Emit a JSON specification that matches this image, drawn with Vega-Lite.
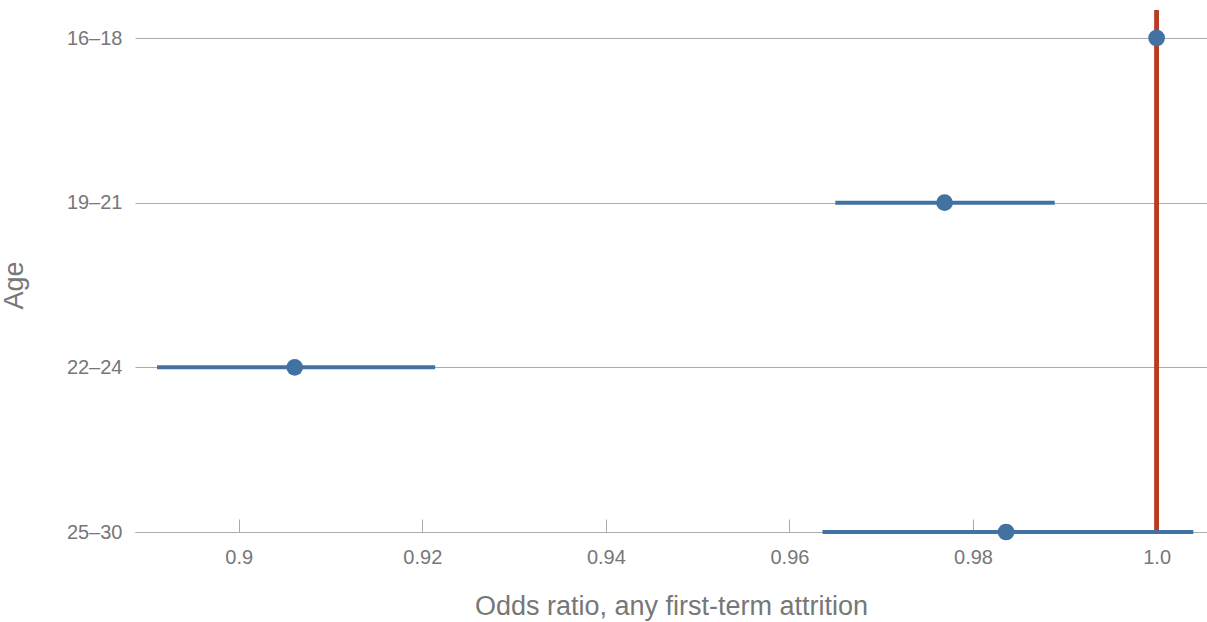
{
  "$schema": "https://vega.github.io/schema/vega-lite/v6.json",
  "width": 1072,
  "height": 522,
  "autosize": {"type": "none"},
  "padding": {"left": 135, "top": 10, "right": 0, "bottom": 90},
  "background": "white",
  "config": {
    "view": {"stroke": null},
    "font": "Liberation Sans",
    "axis": {
      "labelFont": "Liberation Sans",
      "titleFont": "Liberation Sans",
      "labelColor": "#777777",
      "titleColor": "#777777",
      "labelFontSize": 20,
      "titleFontSize": 27,
      "titleFontWeight": "normal"
    }
  },
  "data": {
    "values": [
      {"age": "16–18", "or": 1.0, "lo": 1.0, "hi": 1.0},
      {"age": "19–21", "or": 0.9769, "lo": 0.965, "hi": 0.9889},
      {"age": "22–24", "or": 0.9061, "lo": 0.8911, "hi": 0.9214},
      {"age": "25–30", "or": 0.9836, "lo": 0.9636, "hi": 1.004}
    ]
  },
  "encoding": {
    "y": {
      "field": "age",
      "type": "ordinal",
      "sort": ["16–18", "19–21", "22–24", "25–30"],
      "scale": {"type": "point", "range": [28, 522], "padding": 0},
      "axis": {
        "title": "Age",
        "titleX": -121,
        "titleY": 275,
        "titleBaseline": "middle",
        "titleAlign": "center",
        "domain": false,
        "ticks": false,
        "grid": true,
        "gridColor": "#aaaaaa",
        "gridWidth": 1,
        "labelPadding": 13
      }
    }
  },
  "layer": [
    {
      "mark": {"type": "rule", "color": "#b83c24", "strokeWidth": 4},
      "encoding": {"x": {"datum": 1}, "y": null}
    },
    {
      "mark": {"type": "rule", "color": "#4272a2", "strokeWidth": 4},
      "encoding": {
        "x": {
          "field": "lo",
          "type": "quantitative",
          "scale": {"domain": [0.8887, 1.00549], "nice": false, "zero": false},
          "axis": {
            "title": "Odds ratio, any first-term attrition",
            "values": [0.9, 0.92, 0.94, 0.96, 0.98, 1.0],
            "labelExpr": "datum.value == 1 ? '1.0' : format(datum.value, '.2~f')",
            "grid": false,
            "domainColor": "#aaaaaa",
            "tickColor": "#aaaaaa",
            "tickSize": -13,
            "labelPadding": 28,
            "titlePadding": 26
          }
        },
        "x2": {"field": "hi"}
      }
    },
    {
      "mark": {"type": "circle", "color": "#4272a2", "opacity": 1, "size": 280},
      "encoding": {"x": {"field": "or", "type": "quantitative"}}
    }
  ]
}
